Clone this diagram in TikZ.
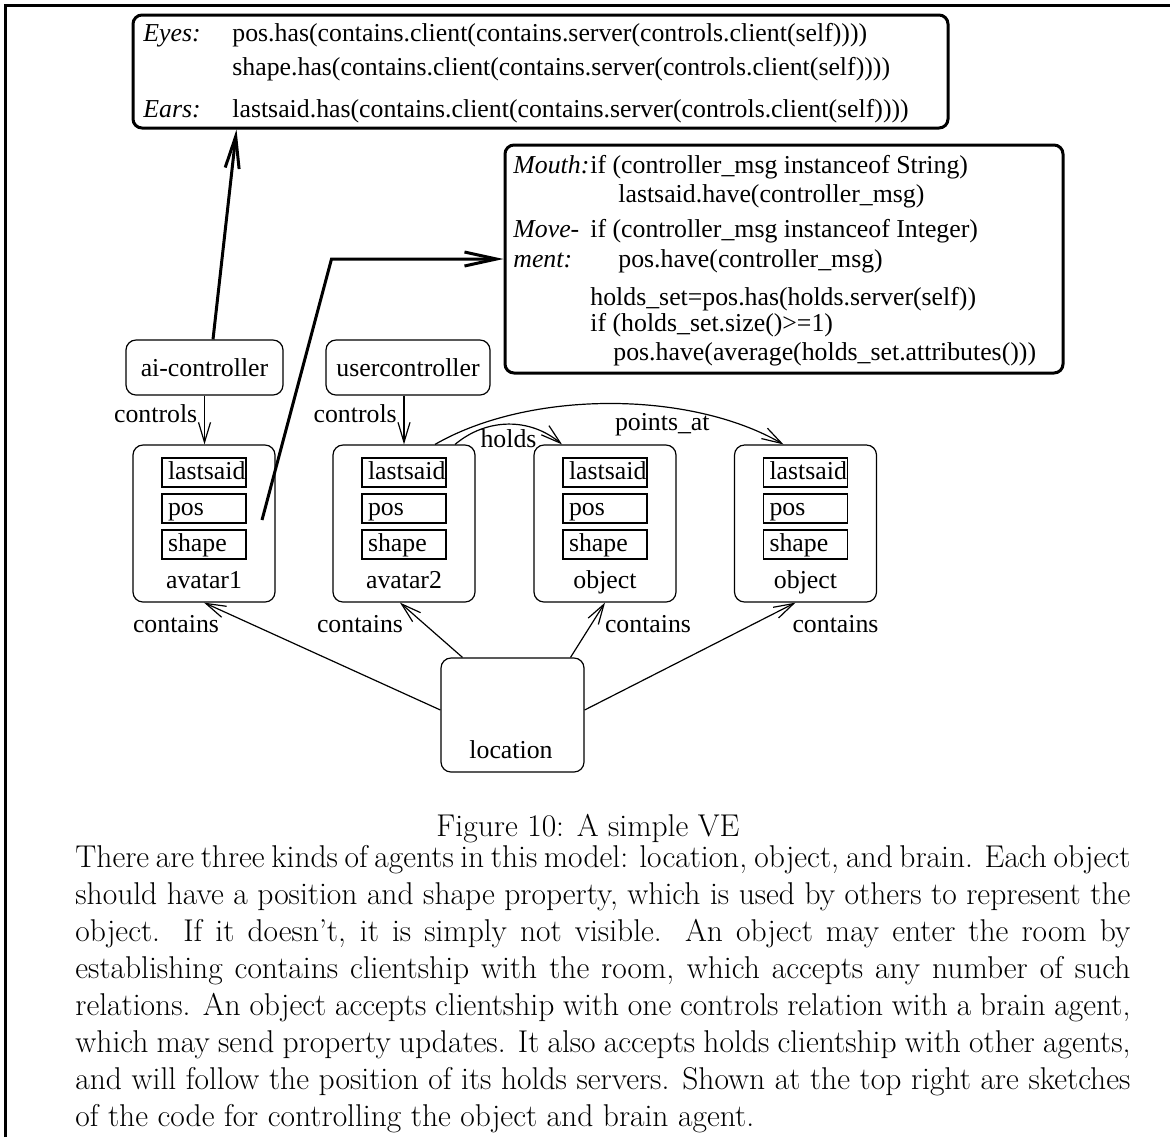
\documentclass[tikz,border=0pt]{standalone}
\usepackage{fontspec}
\newfontfamily\diagfont{Liberation Serif}
\usetikzlibrary{arrows.meta}
\begin{document}
\begin{tikzpicture}[x=0.5pt,y=-0.5pt,
  every node/.style={font=\diagfont\fontsize{12.9pt}{15.5pt}\selectfont},
  agent/.style={draw, rounded corners=5pt, line width=0.6pt, inner sep=0pt},
  codebox/.style={draw, rounded corners=4.5pt, line width=1.5pt, inner sep=0pt},
  field/.style={draw, line width=0.6pt, minimum width=42pt, minimum height=14.5pt,
    inner ysep=0pt, inner xsep=3pt, text width=36pt, align=left,
    text height=9.5pt, text depth=2.5pt},
  txt/.style={inner sep=0pt, anchor=base west},
  rel/.style={line width=0.6pt, -{Straight Barb[length=10pt,width=6pt]}},
  link/.style={line width=1.5pt, -{Straight Barb[length=16pt,width=7pt]}},
  captext/.style={font=\normalfont\fontsize{15.75pt}{18.5pt}\selectfont},
]
\useasboundingbox (0,0) rectangle (1170,1137);
% page frame (top and left rules)
\draw[line width=1.5pt] (5,1137) -- (5,5) -- (1170,5);

% code sketches
\node[codebox, minimum width=407.5pt, minimum height=56.5pt] (eyes) at (540.5,71.5) {};
\node[txt] (eyes-k) at (143,41) {\itshape Eyes:};
\node[txt] (eyes-1) at (232,41) {pos.has(contains.client(contains.server(controls.client(self))))};
\node[txt] (eyes-2) at (232,75) {shape.has(contains.client(contains.server(controls.client(self))))};
\node[txt] (ears-k) at (143,117) {\itshape Ears:};
\node[txt] (ears-1) at (232,117) {lastsaid.has(contains.client(contains.server(controls.client(self))))};

\node[codebox, minimum width=279pt, minimum height=114pt] (mouth) at (784,259) {};
\node[txt] (mouth-k) at (513,173) {\itshape Mouth:};
\node[txt] (mouth-1) at (590,173) {if (controller\_msg instanceof String)};
\node[txt] (mouth-2) at (618,202) {lastsaid.have(controller\_msg)};
\node[txt] (move-k1) at (513,237) {\itshape Move-};
\node[txt] (move-1) at (590,237) {if (controller\_msg instanceof Integer)};
\node[txt] (move-k2) at (513,267) {\itshape ment:};
\node[txt] (move-2) at (618,267) {pos.have(controller\_msg)};
\node[txt] (hold-1) at (590,305) {holds\_set=pos.has(holds.server(self))};
\node[txt] (hold-2) at (590,331) {if (holds\_set.size()>=1)};
\node[txt] (hold-3) at (613,360) {pos.have(average(holds\_set.attributes()))};

% controllers
\node[agent, minimum width=78.5pt, minimum height=27.5pt] (aic) at (204.5,367.5) {ai-controller\hspace{6pt}};
\node[agent, minimum width=82pt, minimum height=27.5pt] (usc) at (408,367.5) {usercontroller\hspace{3pt}};

% agents with their properties
\foreach \n/\x/\lab in {av1/204/avatar1, av2/404/avatar2, ob1/605/object, ob2/805.5/object} {
  \node[agent, minimum width=71pt, minimum height=78.5pt] (\n) at (\x,523.5) {};
  \node[field] (\n-said) at (\x,472.5) {lastsaid};
  \node[field] (\n-pos) at (\x,508.5) {pos};
  \node[field] (\n-shape) at (\x,544.5) {shape};
  \node[anchor=base] (\n-name) at (\x,588) {\lab};
}

% location
\node[agent, minimum width=71.5pt, minimum height=57pt] (loc) at (512.5,715) {};
\node[anchor=base] (loc-name) at (511,758) {location};

% relations
\draw[rel] (aic.south) -- node[left, pos=0.38] {controls} (aic.south |- av1.north);
\draw[rel] (av2.north |- usc.south) -- node[left, pos=0.38] {controls} (av2.north);
\draw[rel] ([xshift=25.5pt]av2.north) to[bend left=40]
  node[below, midway, inner sep=2.5pt] {holds} ([xshift=-21.5pt]ob1.north);
\draw[rel] ([xshift=15.5pt]av2.north) to[bend left=30, looseness=0.8]
  node[below, pos=0.64, inner sep=3pt] {points\_at} ([xshift=-11pt]ob2.north);

\draw[rel] ([yshift=2.5pt]loc.west) -- node[pos=1, xshift=-14pt, yshift=-10.5pt] {contains} (av1.south);
\draw[rel] ([xshift=-25pt]loc.north) -- node[pos=1, xshift=-20pt, yshift=-10.5pt] {contains} ([xshift=-2pt]av2.south);
\draw[rel] ([xshift=29pt]loc.north) -- node[pos=1, xshift=21.5pt, yshift=-10.5pt] {contains} (ob1.south);
\draw[rel] ([yshift=2.5pt]loc.east) -- node[pos=1, xshift=20pt, yshift=-10.5pt] {contains} ([xshift=-5pt]ob2.south);

% links to the code sketches
\draw[link] ([xshift=4.25pt]aic.north) -- ([xshift=52.5pt]eyes.south west);
\coordinate (grip) at (262,520);
\draw[link] (grip) -- ([xshift=-86pt]mouth.west) -- (mouth.west);

% caption and text
\node[captext, anchor=base] (figcap) at (588,836) {Figure 10: A simple VE};
\node[captext, text width=527.5pt, align=justify, anchor=north west, inner sep=0pt] (body) at (75,845)
{There are three kinds of agents in this model: location, object, and brain. Each object\linebreak
should have a position and shape property, which is used by others to represent the\linebreak
object. If it doesn't, it is simply not visible. An object may enter the room by\linebreak
establishing contains clientship with the room, which accepts any number of such\linebreak
relations. An object accepts clientship with one controls relation with a brain agent,\linebreak
which may send property updates. It also accepts holds clientship with other agents,\linebreak
and will follow the position of its holds servers. Shown at the top right are sketches\linebreak
of the code for controlling the object and brain agent.};
\end{tikzpicture}
\end{document}
